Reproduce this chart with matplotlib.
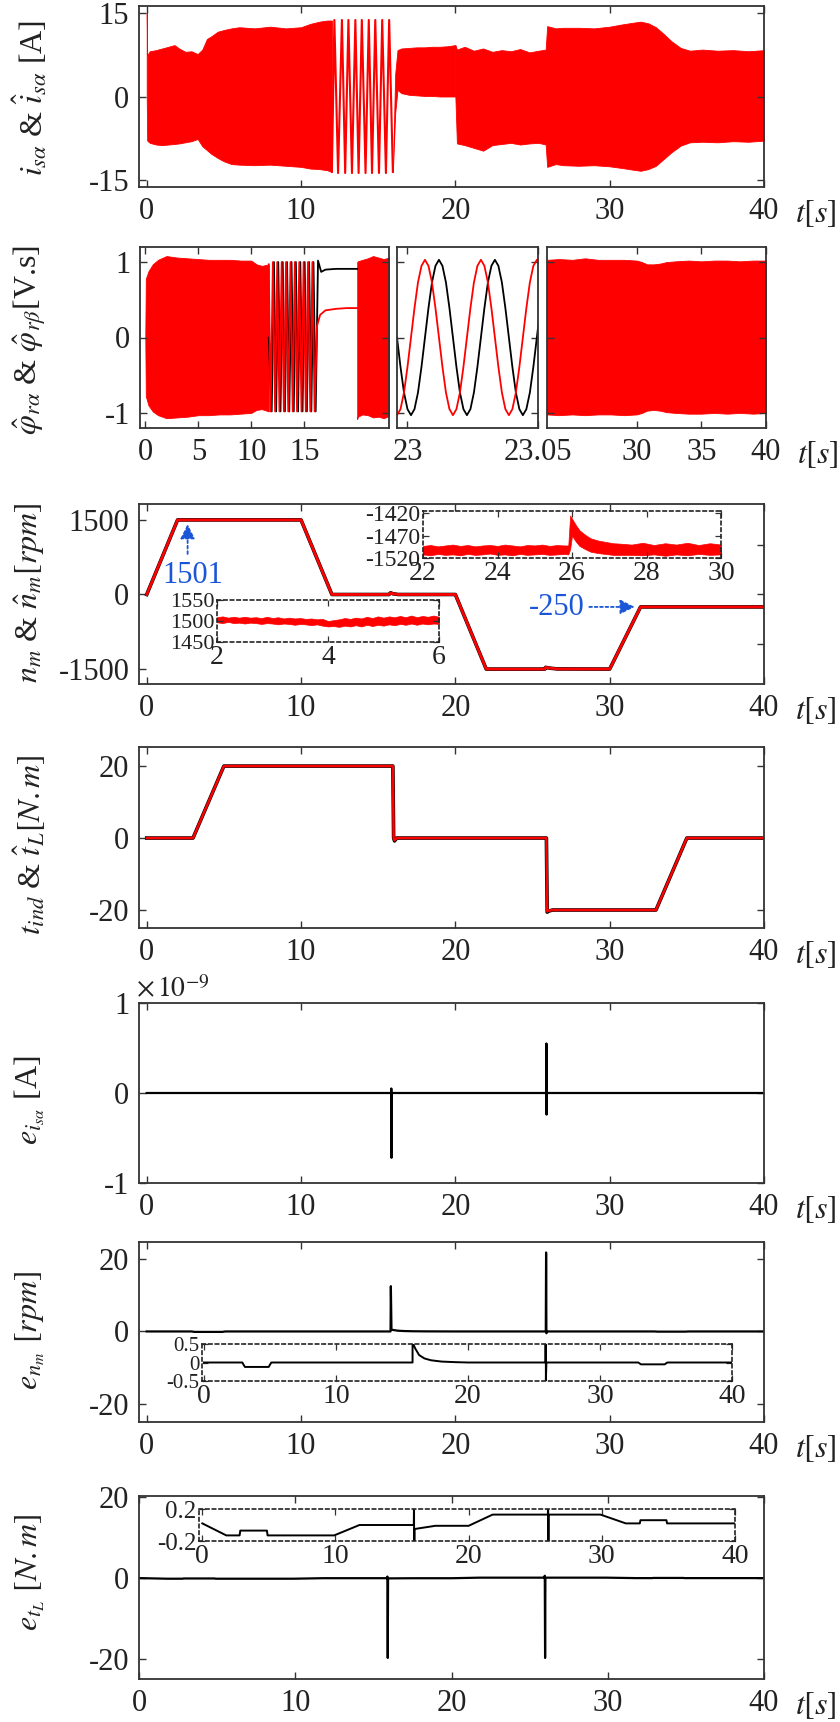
import numpy as np
import matplotlib.pyplot as plt

plt.rcParams['font.family'] = 'serif'
plt.rcParams['font.serif'] = ['Liberation Serif', 'DejaVu Serif']
plt.rcParams['mathtext.fontset'] = 'stix'
plt.rcParams['axes.unicode_minus'] = False

# ---------------- data ----------------
# panel 1 : stator current i_sa (envelope of the fast oscillation) [A]
t_isa_a = [0.0, 0.03, 0.2, 0.6, 1.0, 1.4, 1.8, 2.1, 2.5, 2.9, 3.3, 3.6, 3.9, 4.2, 4.6, 5.0, 5.5, 6.0, 7.0, 8.0, 9.0, 10.0, 10.6, 11.2, 11.7, 12.0]
up_isa_a = [15.0, 7.4, 8.1, 8.3, 8.6, 8.9, 9.2, 8.6, 8.0, 8.1, 7.6, 8.4, 10.3, 10.8, 11.6, 11.9, 12.2, 12.4, 12.2, 12.5, 12.2, 12.4, 13.0, 13.4, 13.6, 13.6]
lo_isa_a = [0.0, -7.9, -8.3, -8.6, -8.7, -8.6, -8.5, -8.4, -8.2, -8.0, -7.6, -8.9, -9.6, -10.3, -11.0, -11.6, -12.1, -12.2, -12.3, -12.2, -12.4, -12.6, -12.9, -13.0, -13.2, -13.5]
t_isa_osc = [12.0, 12.16, 12.4, 12.65, 12.86, 13.07, 13.3, 13.52, 13.73, 13.94, 14.18, 14.39, 14.6, 14.81, 15.05, 15.26, 15.5, 15.71, 15.95]
v_isa_osc = [-13.5, 13.7, -13.7, 13.7, -13.7, 13.7, -13.7, 13.7, -13.7, 13.7, -13.7, 13.7, -13.7, 13.7, -13.7, 13.7, -13.7, 13.7, -13.5]
t_isa_b = [15.95, 16.1, 16.25, 16.5, 17.0, 17.5, 18.0, 18.5, 19.0, 19.5, 20.0]
up_isa_b = [-13.5, 4.0, 8.3, 8.6, 8.7, 8.8, 8.8, 8.9, 8.9, 9.0, 9.2]
lo_isa_b = [-13.5, -3.0, 1.2, 0.6, 0.3, 0.2, 0.1, 0.1, 0.0, 0.0, 0.0]
t_isa_c = [20.0, 20.1, 20.6, 21.2, 21.8, 22.4, 23.0, 23.6, 24.2, 24.8, 25.4, 25.85, 25.95, 26.5, 27.0, 28.0, 29.0, 30.0, 30.8, 31.5, 32.0, 32.5, 33.0, 33.5, 34.0, 34.6, 35.2, 36.0, 37.0, 38.0, 39.0, 40.0]
up_isa_c = [9.2, 8.4, 8.9, 8.2, 8.6, 8.0, 8.3, 8.1, 8.5, 7.9, 8.2, 8.4, 12.6, 12.2, 12.3, 12.3, 12.2, 12.5, 12.9, 13.2, 13.4, 13.1, 12.4, 11.2, 9.9, 8.7, 8.2, 8.4, 8.2, 8.3, 8.1, 8.3]
lo_isa_c = [0.0, -8.4, -8.7, -9.2, -9.7, -8.7, -8.5, -8.3, -8.6, -8.4, -8.3, -8.6, -12.6, -12.1, -12.3, -12.4, -12.3, -12.5, -12.8, -13.1, -13.3, -13.0, -12.4, -11.2, -10.0, -8.8, -8.2, -8.1, -8.2, -8.0, -8.1, -7.9]

# panel 2 : rotor flux [V.s]
t_phi_a = [0.0, 0.05, 0.3, 0.7, 1.2, 2.0, 3.0, 4.0, 5.0, 6.0, 7.0, 8.0, 9.0, 10.0, 10.5, 11.0, 11.65]
up_phi_a = [0.0, 0.78, 0.88, 0.97, 1.03, 1.08, 1.06, 1.05, 1.04, 1.03, 1.03, 1.03, 1.02, 1.02, 0.97, 0.95, 0.97]
lo_phi_a = [0.0, -0.78, -0.9, -0.98, -1.03, -1.07, -1.06, -1.05, -1.03, -1.03, -1.02, -1.02, -1.01, -1.0, -0.96, -0.95, -0.98]
t_phi_r = [11.65, 11.83, 12.04, 12.25, 12.45, 12.66, 12.87, 13.08, 13.28, 13.49, 13.70, 13.91, 14.11, 14.32, 14.53, 14.74, 14.94, 15.15, 15.36, 15.57, 15.77, 15.98, 16.2, 16.5, 17.0, 18.0, 19.0, 20.0]
v_phi_r = [0.97, -0.98, 1.0, -0.98, 1.0, -0.98, 1.0, -0.98, 1.0, -0.98, 1.0, -0.98, 1.0, -0.98, 1.0, -0.98, 1.0, -0.98, 1.0, -0.98, 1.0, -0.98, 0.15, 0.3, 0.36, 0.38, 0.39, 0.39]
t_phi_k = [11.65, 11.93, 12.14, 12.35, 12.55, 12.76, 12.97, 13.18, 13.38, 13.59, 13.80, 14.01, 14.21, 14.42, 14.63, 14.84, 15.04, 15.25, 15.46, 15.67, 15.87, 16.08, 16.3, 16.6, 17.0, 18.0, 19.0, 20.0]
v_phi_k = [0.0, -0.98, 1.0, -0.98, 1.0, -0.98, 1.0, -0.98, 1.0, -0.98, 1.0, -0.98, 1.0, -0.98, 1.0, -0.98, 1.0, -0.98, 1.0, -0.98, 1.0, -0.98, 1.02, 0.87, 0.9, 0.91, 0.91, 0.91]
t_phi_b = [20.0, 20.05, 20.5, 21.0, 21.5, 22.0, 22.5, 23.0]
up_phi_b = [1.0, 1.01, 1.03, 1.05, 1.08, 1.06, 1.04, 1.06]
lo_phi_b = [-1.08, -1.05, -1.02, -1.03, -1.06, -1.05, -1.07, -1.04]
# zoom 23 s .. 23.05 s (42 samples)
t_phi_z = np.linspace(22.996, 23.0509, 42)
phi_z_r = [-1.03, -0.95, -0.73, -0.39, 0.0, 0.39, 0.73, 0.95, 1.03, 0.95, 0.73, 0.39, 0.0, -0.39, -0.73, -0.95,
           -1.03, -0.95, -0.73, -0.39, 0.0, 0.39, 0.73, 0.95, 1.03, 0.95, 0.73, 0.39, 0.0, -0.39, -0.73, -0.95,
           -1.03, -0.95, -0.73, -0.39, 0.0, 0.39, 0.73, 0.95, 1.03, 0.95]
phi_z_k = [0.0, -0.39, -0.73, -0.95, -1.03, -0.95, -0.73, -0.39, 0.0, 0.39, 0.73, 0.95, 1.03, 0.95, 0.73, 0.39,
           0.0, -0.39, -0.73, -0.95, -1.03, -0.95, -0.73, -0.39, 0.0, 0.39, 0.73, 0.95, 1.03, 0.95, 0.73, 0.39,
           0.0, -0.39, -0.73, -0.95, -1.03, -0.95, -0.73, -0.39, 0.0, 0.39]
t_phi_c = [23.05, 24.0, 25.0, 26.0, 27.0, 28.0, 29.0, 30.0, 30.4, 30.8, 31.3, 31.8, 32.3, 33.0, 34.0, 35.0, 36.0, 37.0, 38.0, 39.0, 40.0]
up_phi_c = [1.03, 1.04, 1.03, 1.05, 1.03, 1.03, 1.03, 1.02, 1.0, 0.97, 0.97, 0.98, 1.0, 1.01, 1.02, 1.01, 1.02, 1.02, 1.01, 1.02, 1.02]
lo_phi_c = [-1.02, -1.03, -1.02, -1.03, -1.02, -1.02, -1.03, -1.02, -1.0, -0.97, -0.96, -0.97, -0.99, -1.0, -1.01, -1.01, -1.0, -1.01, -1.0, -1.01, -1.0]

# panel 3 : speed [rpm]
t_n = [0.0, 2.0, 10.0, 12.0, 15.7, 15.8, 15.95, 16.3, 20.0, 22.0, 25.8, 25.85, 26.1, 26.6, 30.0, 32.0, 40.0]
n_m = [0, 1500, 1500, 0, 0, 35, 15, 0, 0, -1500, -1500, -1465, -1480, -1497, -1500, -250, -250]
t_n_ins1 = np.linspace(2.0, 6.0, 41)
up_n_ins1 = [1509, 1511, 1508, 1510, 1508, 1510, 1508, 1509, 1507, 1510, 1507, 1509, 1506, 1508, 1506, 1507, 1505, 1506, 1504, 1505,
             1500, 1502, 1504, 1507, 1505, 1508, 1506, 1510, 1507, 1511, 1508, 1511, 1509, 1512, 1509, 1513, 1509, 1512, 1510, 1513, 1510]
lo_n_ins1 = [1497, 1495, 1498, 1495, 1496, 1494, 1496, 1495, 1493, 1495, 1494, 1492, 1494, 1493, 1491, 1493, 1492, 1490, 1492, 1489,
             1487, 1488, 1486, 1489, 1487, 1490, 1487, 1491, 1488, 1491, 1489, 1492, 1490, 1493, 1491, 1494, 1491, 1494, 1492, 1494, 1493]
t_n_ins2 = [22.0, 22.2, 22.4, 22.6, 22.8, 23.0, 23.2, 23.4, 23.6, 23.8, 24.0, 24.2, 24.4, 24.6, 24.8, 25.0, 25.2, 25.4, 25.6, 25.8,
            25.9, 25.95, 26.0, 26.1, 26.2, 26.35, 26.5, 26.7, 26.9, 27.1, 27.3, 27.6, 27.9, 28.2, 28.5, 28.8, 29.1, 29.4, 29.7, 30.0]
up_n_ins2 = [-1493, -1491, -1494, -1492, -1490, -1493, -1491, -1494, -1492, -1491, -1493, -1490, -1492, -1494, -1491, -1492, -1490, -1493, -1491, -1492,
             -1492, -1425, -1432, -1446, -1458, -1468, -1476, -1481, -1484, -1487, -1488, -1490, -1486, -1491, -1487, -1490, -1486, -1491, -1487, -1490]
lo_n_ins2 = [-1512, -1514, -1511, -1513, -1512, -1514, -1511, -1513, -1512, -1510, -1513, -1512, -1514, -1511, -1513, -1512, -1511, -1513, -1512, -1511,
             -1512, -1500, -1470, -1483, -1493, -1500, -1506, -1509, -1511, -1513, -1513, -1513, -1514, -1512, -1515, -1512, -1514, -1511, -1513, -1512]

# panel 4 : torque [N.m]
t_T = [0.0, 3.0, 5.0, 15.95, 16.0, 16.06, 16.2, 25.9, 25.95, 26.05, 26.3, 33.0, 35.0, 40.0]
T_ind = [0, 0, 20, 20, 0, -0.8, 0, 0, -20.6, -20.3, -20, -20, 0, 0]
T_L_hat = [0, 0, 20, 20, 0, -0.6, 0, 0, -20.4, -20.2, -20, -20, 0, 0]

# panel 5 : current error [x1e-9 A]
t_e_i = [0.0, 15.84, 15.85, 15.86, 15.87, 25.89, 25.9, 25.91, 25.92, 40.0]
e_i = [0, 0, 0.05, -0.72, 0, 0, 0.55, -0.24, 0, 0]
rip_t0 = [2.9, 16.0, 33.0]
rip_t1 = [5.0, 17.6, 35.0]
rip_amp = [0.014, 0.008, 0.007]

# panel 6 : speed error [rpm]
t_e_n = [0.0, 2.9, 3.1, 4.9, 5.1, 15.8, 15.82, 15.86, 16.0, 16.3, 16.7, 17.2, 18.0, 19.0, 20.0, 25.86, 25.88, 25.9, 25.94, 32.9, 33.1, 34.9, 35.1, 40.0]
e_n = [0, 0, -0.12, -0.12, 0, 0, 12.5, 0.5, 0.38, 0.2, 0.11, 0.06, 0.025, 0.01, 0, 0, 21.8, -0.5, 0, 0, -0.05, -0.05, 0, 0]

# panel 7 : load torque error [N.m]
t_e_t = [0.0, 1.8, 2.8, 2.85, 4.85, 4.9, 9.9, 11.8, 15.88, 15.9, 15.92, 15.94, 17.5, 20.0, 21.8, 25.95, 25.97, 25.99, 26.01, 29.9, 31.8, 32.85, 32.9, 34.85, 34.9, 40.0]
e_t = [0.02, -0.13, -0.13, -0.07, -0.07, -0.13, -0.13, 0.0, 0.0, 0.4, -19.7, -0.05, -0.01, -0.01, 0.13, 0.13, 0.6, -19.7, 0.13, 0.13, 0.02, 0.02, 0.06, 0.06, 0.02, 0.02]

# ---------------- figure ----------------
W, H = 840, 1722
RED = '#ff0000'
BLUE = '#1b55d8'
fig = plt.figure(figsize=(W / 100, H / 100), dpi=100)


def rect(l, t, r, b):
    return [l / W, 1 - b / H, (r - l) / W, (b - t) / H]


def style(ax, size=22, pad=7):
    for sp in ax.spines.values():
        sp.set_linewidth(1.3)
        sp.set_color('#333333')
    ax.tick_params(direction='in', top=True, right=True, length=5, width=1.0,
                   labelsize=size, pad=pad, color='#333333', labelcolor='#222222')


def inset_style(ax, size=17):
    for sp in ax.spines.values():
        sp.set_linewidth(1.2)
        sp.set_color('#222222')
        sp.set_linestyle((0, (2, 2)))
    ax.set_facecolor('none')
    ax.tick_params(direction='in', top=True, right=True, length=4, width=0.9,
                   labelsize=size, pad=2, color='#333333', labelcolor='#222222')


def tlabel(ax):
    ax.annotate(r'$t[s]$', xy=(1, 0), xycoords='axes fraction', xytext=(22, -8),
                textcoords='offset points', ha='left', va='top', fontsize=23, color='#222222')


def ylab(txt, yc):
    fig.text(30 / W, 1 - yc / H, txt, rotation=90, ha='center', va='center', fontsize=23, color='#222222')


# panel 1
ax1 = fig.add_axes(rect(139, 6, 764, 187))
ax1.fill_between(t_isa_a, lo_isa_a, up_isa_a, color=RED, lw=0.6)
ax1.plot(t_isa_osc, v_isa_osc, color=RED, lw=1.5)
ax1.fill_between(t_isa_b, lo_isa_b, up_isa_b, color=RED, lw=0.6)
ax1.fill_between(t_isa_c, lo_isa_c, up_isa_c, color=RED, lw=0.6)
ax1.set_xlim(-0.5, 40)
ax1.set_ylim(-16.2, 16.2)
ax1.set_xticks([0, 10, 20, 30, 40])
ax1.set_yticks([-15, 0, 15])
style(ax1)
tlabel(ax1)
ylab(r'$i_{s\alpha}$ & $\hat{i}_{s\alpha}$ [A]', 98)

# panel 2 (broken axis)
ax2a = fig.add_axes(rect(140, 247, 389, 428))
ax2a.fill_between(t_phi_a, lo_phi_a, up_phi_a, color=RED, lw=0.6)
ax2a.plot(t_phi_k, v_phi_k, color='black', lw=1.3)
ax2a.plot(t_phi_r, v_phi_r, color=RED, lw=1.3)
ax2a.fill_between(t_phi_b, lo_phi_b, up_phi_b, color=RED, lw=0.6)
ax2a.set_xlim(-0.5, 23)
ax2a.set_xticks([0, 5, 10, 15])
ax2b = fig.add_axes(rect(397, 247, 538, 428))
ax2b.plot(t_phi_z, phi_z_k, color='black', lw=1.3)
ax2b.plot(t_phi_z, phi_z_r, color=RED, lw=1.3)
ax2b.set_xlim(22.996, 23.05)
ax2b.set_xticks([23, 23.05])
ax2b.set_xticklabels(['23', '23.05'])
ax2c = fig.add_axes(rect(547, 247, 766, 428))
ax2c.fill_between(t_phi_c, lo_phi_c, up_phi_c, color=RED, lw=0.6)
ax2c.set_xlim(23.05, 40)
ax2c.set_xticks([30, 35, 40])
for a in (ax2a, ax2b, ax2c):
    a.set_ylim(-1.2, 1.2)
    a.set_yticks([-1, 0, 1])
    style(a)
ax2b.tick_params(labelleft=False)
ax2c.tick_params(labelleft=False)
tlabel(ax2c)
ylab(r'$\hat{\varphi}_{r\alpha}$ & $\hat{\varphi}_{r\beta}$[V.s]', 340)

# panel 3
ax3 = fig.add_axes(rect(139, 504, 764, 684))
ax3.plot(t_n, n_m, color='black', lw=2.6)
ax3.plot(t_n, n_m, color=RED, lw=2.0)
ax3.set_xlim(-0.5, 40)
ax3.set_ylim(-1800, 1820)
ax3.set_xticks([0, 10, 20, 30, 40])
ax3.set_yticks([-1500, 0, 1500])
style(ax3)
ax3.tick_params(right=False)
ax3r = ax3.twinx()
ax3r.set_ylim(-1800, 1820)
ax3r.set_yticks([-1000, 0, 1000])
ax3r.tick_params(direction='in', length=5, width=1.0, labelright=False, color='#333333')
for sp in ax3r.spines.values():
    sp.set_visible(False)
ax3.annotate('', xy=(2.65, 1470), xytext=(2.65, 760),
             arrowprops=dict(arrowstyle='-|>', color=BLUE, lw=1.3, linestyle=(0, (1.5, 1.5)), mutation_scale=22))
ax3.text(3.0, 390, '1501', color=BLUE, fontsize=22, ha='center', va='center')
ax3.annotate('', xy=(31.8, -250), xytext=(28.5, -250),
             arrowprops=dict(arrowstyle='-|>', color=BLUE, lw=1.3, linestyle=(0, (1.5, 1.5)), mutation_scale=22))
ax3.text(28.4, -262, '-250', color=BLUE, fontsize=22, ha='right', va='center')
tlabel(ax3)
ylab(r'$n_m$ & $\hat{n}_m[rpm]$', 593)

ins1 = fig.add_axes(rect(217, 600, 439, 642))
ins1.fill_between(t_n_ins1, lo_n_ins1, up_n_ins1, color=RED, lw=0.5)
ins1.set_xlim(2, 6)
ins1.set_ylim(1450, 1550)
ins1.set_xticks([2, 4, 6])
ins1.set_yticks([1450, 1500, 1550])
inset_style(ins1, 16)
ins1.tick_params(axis='x', labelsize=20)

ins2 = fig.add_axes(rect(423, 511, 721, 558))
ins2.fill_between(t_n_ins2, lo_n_ins2, up_n_ins2, color=RED, lw=0.5)
ins2.set_xlim(22, 30)
ins2.set_ylim(-1520, -1415)
ins2.set_xticks([22, 24, 26, 28, 30])
ins2.set_yticks([-1520, -1470, -1420])
inset_style(ins2, 17)
ins2.tick_params(axis='x', labelsize=20)

# panel 4
ax4 = fig.add_axes(rect(139, 747, 764, 928))
ax4.plot(t_T, T_ind, color='black', lw=2.6)
ax4.plot(t_T, T_L_hat, color=RED, lw=1.8)
ax4.set_xlim(-0.5, 40)
ax4.set_ylim(-25, 25.3)
ax4.set_xticks([0, 10, 20, 30, 40])
ax4.set_yticks([-20, 0, 20])
style(ax4)
tlabel(ax4)
ylab(r'$t_{ind}$ & $\hat{t}_L[N.m]$', 845)

# panel 5
ax5 = fig.add_axes(rect(139, 1003, 764, 1183))
for a0, a1, amp in zip(rip_t0, rip_t1, rip_amp):
    ax5.fill_between([a0, a1], [-amp, -amp], [amp, amp], color='black', lw=0)
ax5.plot(t_e_i, e_i, color='black', lw=1.6)
ax5.set_xlim(-0.5, 40)
ax5.set_ylim(-1, 1)
ax5.set_xticks([0, 10, 20, 30, 40])
ax5.set_yticks([-1, 0, 1])
style(ax5)
tlabel(ax5)
fig.text(136 / W, 1 - 990 / H, r'$\times\,10^{-9}$', fontsize=20, ha='left', va='center', color='#222222')
ylab(r'$e_{i_{s\alpha}}$ [A]', 1100)

# panel 6
ax6 = fig.add_axes(rect(139, 1242, 764, 1422))
ax6.plot(t_e_n, e_n, color='black', lw=1.6)
ax6.set_xlim(-0.5, 40)
ax6.set_ylim(-25, 24.7)
ax6.set_xticks([0, 10, 20, 30, 40])
ax6.set_yticks([-20, 0, 20])
style(ax6)
tlabel(ax6)
ylab(r'$e_{n_m}$ $[rpm]$', 1330)
ins6 = fig.add_axes(rect(202, 1344, 732, 1381))
ins6.plot(t_e_n, e_n, color='black', lw=1.4)
ins6.set_xlim(-0.15, 40)
ins6.set_ylim(-0.5, 0.5)
ins6.set_xticks([0, 10, 20, 30, 40])
ins6.set_yticks([-0.5, 0, 0.5])
ins6.set_yticklabels(['-0.5', '0', '0.5'])
inset_style(ins6, 15)
ins6.tick_params(axis='x', labelsize=20)

# panel 7
ax7 = fig.add_axes(rect(139, 1496, 764, 1679))
ax7.plot(t_e_t, e_t, color='black', lw=1.6)
ax7.set_xlim(0, 40)
ax7.set_ylim(-24.9, 20.3)
ax7.set_xticks([0, 10, 20, 30, 40])
ax7.set_yticks([-20, 0, 20])
style(ax7)
tlabel(ax7)
ylab(r'$e_{t_L}$ $[N.m]$', 1572)
ins7 = fig.add_axes(rect(199, 1509, 735, 1541))
ins7.plot(t_e_t, e_t, color='black', lw=1.4)
ins7.set_xlim(-0.25, 40)
ins7.set_ylim(-0.2, 0.2)
ins7.set_xticks([0, 10, 20, 30, 40])
ins7.set_yticks([-0.2, 0.2])
inset_style(ins7, 18)
ins7.tick_params(axis='x', labelsize=20)

fig.savefig('out.png', dpi=100)
